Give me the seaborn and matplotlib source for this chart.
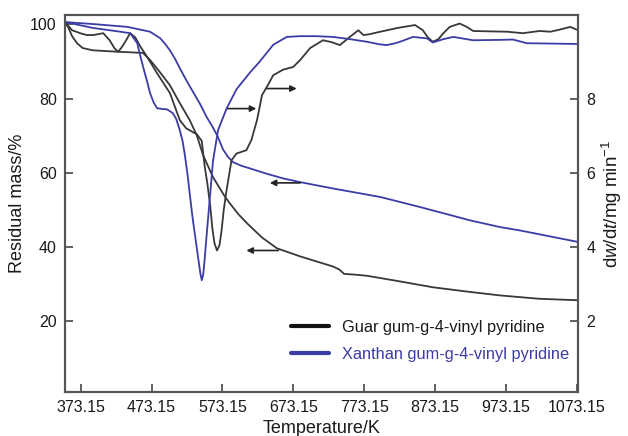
import matplotlib
matplotlib.use("Agg")
import matplotlib.pyplot as plt
import seaborn as sns
from matplotlib.lines import Line2D

# ---------------- data ----------------
x_ticks = [373.15, 473.15, 573.15, 673.15, 773.15, 873.15, 973.15, 1073.15]
x_tick_labels = ["373.15", "473.15", "573.15", "673.15", "773.15", "873.15", "973.15", "1073.15"]
left_ticks = [20, 40, 60, 80, 100]
right_ticks = [2, 4, 6, 8]

series_names = ["Guar gum-g-4-vinyl pyridine", "Xanthan gum-g-4-vinyl pyridine"]

# Residual mass (%) – TG curves
guar_tg_T = [351, 356, 361, 368, 376, 390, 426, 461, 471, 485, 499, 513, 527, 537, 546,
             556, 560, 577, 584, 596, 608, 629, 650, 683, 729, 738, 745, 760, 777, 820,
             870, 920, 965, 1020, 1075]
guar_tg = [100.6, 99.0, 96.8, 94.9, 93.6, 93.0, 92.6, 92.3, 90.4, 87.1, 83.6, 78.8, 74.2, 70.1, 64.7,
           60.5, 58.8, 53.5, 51.7, 48.8, 46.4, 42.6, 39.7, 37.5, 34.8, 34.0, 32.8, 32.6, 32.3, 30.9,
           29.2, 28.0, 27.0, 26.1, 25.7]

xanthan_tg_T = [351, 395, 439, 471, 485, 492, 499, 506, 513, 522, 532, 542, 551, 558, 566,
                574, 581, 588, 600, 612, 635, 659, 683, 729, 796, 852, 923, 965, 993, 1075]
xanthan_tg = [100.6, 100.0, 99.3, 98.0, 96.3, 94.8, 93.0, 90.8, 88.2, 85.0, 81.7, 78.4, 75.0, 72.8, 70.0,
              66.3, 64.3, 62.9, 61.9, 61.2, 59.8, 58.5, 57.5, 55.8, 53.5, 50.8, 47.2, 45.4, 44.5, 41.4]

# dw/dt (mg min^-1) – DTG curves
guar_dtg_T = [351, 361, 374, 382, 391, 405, 414, 421, 426, 431, 436, 443, 450, 458, 467,
              481, 499, 513, 522, 532, 537, 544, 548, 552, 556, 559, 562, 565.5, 569, 572,
              575, 579, 586, 593, 607, 614, 622, 629, 636, 645, 659, 673, 683, 697, 715,
              727, 739, 753, 765, 772, 780, 796, 820, 845, 856, 863, 870, 878, 885, 894,
              908, 918, 927, 950, 975, 997, 1021, 1036, 1050, 1064, 1075]
guar_dtg = [10.06, 9.84, 9.75, 9.71, 9.71, 9.76, 9.57, 9.35, 9.26, 9.38, 9.53, 9.76, 9.65, 9.38, 9.12,
            8.68, 8.15, 7.42, 7.20, 7.09, 7.04, 6.86, 6.20, 5.70, 5.10, 4.50, 4.10, 3.91, 4.05, 4.45,
            5.00, 5.53, 6.34, 6.52, 6.61, 6.88, 7.42, 8.09, 8.32, 8.63, 8.78, 8.85, 9.04, 9.36, 9.57,
            9.52, 9.44, 9.66, 9.84, 9.71, 9.73, 9.80, 9.90, 9.98, 9.84, 9.65, 9.53, 9.60, 9.76, 9.93,
            10.02, 9.93, 9.82, 9.81, 9.80, 9.76, 9.82, 9.80, 9.86, 9.93, 9.84]

xanthan_dtg_T = [351, 391, 429, 443, 453, 457, 462, 467, 471, 476, 481, 488, 495, 503, 508,
                 513, 517, 520, 524, 527, 531, 535, 539, 542, 544, 546, 548, 551, 556, 560,
                 567, 579, 593, 612, 626, 645, 664, 683, 705, 729, 753, 777, 795, 805, 815,
                 824, 842, 862, 870, 885, 899, 927, 965, 983, 1003, 1040, 1075]
xanthan_dtg = [10.06, 9.90, 9.80, 9.76, 9.49, 9.17, 8.80, 8.45, 8.15, 7.90, 7.74, 7.72, 7.71, 7.61, 7.45,
               7.15, 6.85, 6.50, 5.95, 5.44, 4.80, 4.25, 3.70, 3.30, 3.11, 3.25, 3.65, 4.35, 5.45, 6.34,
               7.15, 7.73, 8.25, 8.70, 9.00, 9.45, 9.66, 9.68, 9.68, 9.66, 9.60, 9.53, 9.46, 9.44, 9.48,
               9.53, 9.66, 9.62, 9.51, 9.60, 9.66, 9.57, 9.58, 9.59, 9.49, 9.48, 9.47]

# ---------------- style ----------------
sns.set_theme(style="ticks")
plt.rcParams['font.family'] = ['Liberation Sans', 'DejaVu Sans']
plt.rcParams['mathtext.fontset'] = 'custom'
plt.rcParams['mathtext.rm'] = 'Liberation Sans'
plt.rcParams['mathtext.it'] = 'Liberation Sans:italic'

BLACK = '#383838'
BLUE = '#3c3ca6'
SPINE = '#555555'
TXT = '#1a1a1a'

fig = plt.figure(figsize=(6.28, 4.36), dpi=100)
ax = fig.add_axes([65 / 628, 1 - 392 / 436, (578 - 65) / 628, (392 - 15) / 436])
ax2 = ax.twinx()

lw = 1.3
sns.lineplot(x=guar_tg_T, y=guar_tg, ax=ax, color=BLACK, lw=lw, sort=False, estimator=None)
sns.lineplot(x=xanthan_tg_T, y=xanthan_tg, ax=ax, color=BLUE, lw=lw, sort=False, estimator=None)
sns.lineplot(x=guar_dtg_T, y=guar_dtg, ax=ax2, color=BLACK, lw=lw, sort=False, estimator=None)
sns.lineplot(x=xanthan_dtg_T, y=xanthan_dtg, ax=ax2, color=BLUE, lw=lw, sort=False, estimator=None)

ax.set_xlim(351, 1075)
ax.set_ylim(1, 102.5)
ax2.set_ylim(0.1, 10.25)

ax.set_xticks(x_ticks)
ax.set_xticklabels(x_tick_labels)
ax.set_yticks(left_ticks)
ax2.set_yticks(right_ticks)

for a in (ax, ax2):
    for s in a.spines.values():
        s.set_color(SPINE)
        s.set_linewidth(1.5)
        s.set_visible(True)
    a.tick_params(direction='in', length=6, width=1.3, color=SPINE, labelsize=11.5,
                  labelcolor=TXT, pad=6)
ax.tick_params(axis='y', right=False)
ax2.tick_params(axis='y', left=False)

ax.set_xlabel("Temperature/K", fontsize=13, color=TXT, labelpad=3)
ax.set_ylabel("Residual mass/%", fontsize=13, color=TXT, labelpad=3)
ax2.set_ylabel(r"d$\mathit{w}$/d$\mathit{t}$/mg min$^{-1}$", fontsize=13.5, color=TXT, labelpad=3)

# arrows indicating the axis each curve belongs to
arrow_kw = dict(arrowstyle='-|>', color='#222222', lw=1.2, mutation_scale=9, shrinkA=0, shrinkB=0)
ax.annotate("", xy=(678, 82.7), xytext=(635, 82.7), arrowprops=arrow_kw)
ax.annotate("", xy=(621, 77.3), xytext=(579, 77.3), arrowprops=arrow_kw)
ax.annotate("", xy=(640, 57.3), xytext=(683, 57.3), arrowprops=arrow_kw)
ax.annotate("", xy=(607, 39.1), xytext=(652, 39.1), arrowprops=arrow_kw)

handles = [Line2D([], [], color='#111111', lw=3), Line2D([], [], color=BLUE, lw=3)]
leg = ax2.legend(handles, series_names, loc='lower right', bbox_to_anchor=(1.012, 0.04),
                 frameon=False, fontsize=11.8, handlelength=2.3, handletextpad=0.8,
                 labelspacing=0.75)
leg.get_texts()[0].set_color(TXT)
leg.get_texts()[1].set_color(BLUE)

fig.savefig("out.png", dpi=100)
